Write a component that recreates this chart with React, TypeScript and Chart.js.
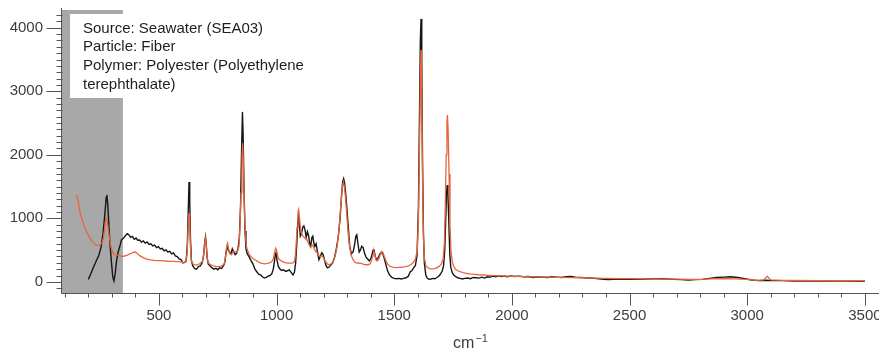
import React, { useEffect, useRef } from "react";
import { Chart, registerables } from "chart.js";

Chart.register(...registerables);

// ---- Data (wavenumber cm^-1, intensity) ----
const BLACK_X = [
  200, 210, 222, 235, 245, 255, 263, 270, 276, 279, 283, 288, 293, 299, 304, 309, 314, 320, 327, 334,
  341, 350, 358, 366, 373, 380, 388, 395, 403, 410, 418, 426, 434, 442, 450, 458, 466, 474, 482, 490,
  498, 506, 514, 522, 530, 538, 546, 554, 562, 570, 578, 586, 594, 602, 610, 616, 621, 625, 628, 631,
  634, 638, 644, 652, 660, 668, 676, 684, 690, 695, 698, 701, 705, 710, 718, 726, 734, 742, 750, 758,
  766, 774, 780, 786, 791, 795, 800, 806, 812, 818, 824, 830, 836, 842, 847, 851, 855, 858, 862, 866,
  870, 876, 884, 892, 900, 908, 916, 924, 932, 940, 948, 956, 964, 972, 980, 986, 991, 995, 998, 1002,
  1008, 1015, 1022, 1030, 1038, 1046, 1054, 1062, 1070, 1076, 1081, 1086, 1090, 1093, 1097, 1101, 1106, 1111, 1116, 1121,
  1126, 1131, 1136, 1141, 1145, 1150, 1154, 1158, 1163, 1168, 1174, 1180, 1186, 1192, 1198, 1204, 1210, 1216, 1222, 1230,
  1238, 1246, 1254, 1262, 1270, 1276, 1281, 1285, 1289, 1294, 1299, 1305, 1311, 1318, 1326, 1332, 1337, 1341, 1346, 1351,
  1356, 1362, 1368, 1374, 1380, 1387, 1394, 1400, 1406, 1410, 1414, 1419, 1425, 1432, 1439, 1445, 1451, 1457, 1464, 1472,
  1480, 1490, 1500, 1510, 1520, 1530, 1540, 1550, 1560, 1568, 1575, 1582, 1590, 1597, 1603, 1607, 1611, 1614, 1617, 1620,
  1624, 1628, 1634, 1640, 1648, 1656, 1664, 1672, 1680, 1688, 1696, 1704, 1710, 1715, 1719, 1722, 1725, 1728, 1732, 1736,
  1740, 1746, 1752, 1760, 1770, 1780, 1790, 1800, 1812, 1824, 1836, 1848, 1860, 1872, 1884, 1896, 1908, 1920, 1932, 1944,
  1956, 1968, 1980, 1995, 2010, 2030, 2050, 2070, 2090, 2110, 2130, 2150, 2170, 2190, 2210, 2230, 2250, 2270, 2290, 2310,
  2330, 2350, 2370, 2390, 2410, 2430, 2450, 2480, 2510, 2540, 2570, 2600, 2630, 2660, 2690, 2720, 2750, 2780, 2810, 2840,
  2870, 2900, 2930, 2960, 2990, 3020, 3050, 3080, 3110, 3150, 3200, 3300, 3400, 3500,
];
const BLACK_Y = [
  40, 120, 230, 340, 420, 560, 780, 1050, 1330, 1369, 1200, 860, 560, 280, 80, 15, 120, 330, 470, 560,
  660, 690, 730, 760, 740, 700, 715, 670, 690, 655, 660, 625, 645, 610, 630, 590, 600, 565, 580, 540,
  555, 520, 530, 490, 505, 470, 480, 440, 455, 410, 400, 360, 350, 300, 310, 330, 600, 1150, 1573, 1300,
  700, 340, 250, 210, 200, 240, 250, 300, 420, 640, 710, 600, 380, 280, 250, 220, 200, 215, 190, 220,
  210, 250, 300, 480, 570, 500, 470, 440, 520, 470, 430, 450, 520, 700, 1200, 2000, 2676, 2300, 1400, 800,
  520, 440, 390, 330, 280, 200, 160, 120, 110, 80, 60, 70, 90, 100, 130, 200, 320, 440, 460, 340,
  240, 200, 180, 190, 165, 175, 190, 150, 110, 150, 300, 600, 920, 1060, 900, 720, 760, 860, 880, 820,
  700, 790, 730, 600, 560, 700, 720, 620, 560, 600, 470, 350, 400, 460, 430, 340, 260, 220, 230, 260,
  300, 380, 520, 700, 1000, 1350, 1580, 1625, 1560, 1380, 1150, 850, 560, 440, 480, 600, 720, 740, 600, 470,
  500, 560, 540, 450, 390, 360, 330, 360, 430, 500, 510, 400, 350, 380, 440, 460, 450, 380, 280, 170,
  110, 70, 55, 50, 55, 45, 55, 65, 90, 160, 175, 220, 260, 420, 1200, 2500, 3800, 4140, 3500, 2000,
  800, 300, 110, 60, 40, 45, 55, 50, 65, 85, 120, 170, 260, 520, 1000, 1380, 1526, 1380, 950, 450,
  240, 150, 110, 85, 65, 55, 45, 55, 60, 50, 70, 65, 60, 75, 60, 80, 75, 90, 80, 95,
  85, 90, 80, 95, 85, 90, 80, 85, 70, 80, 75, 70, 80, 75, 70, 80, 85, 75, 70, 65,
  60, 55, 50, 40, 35, 40, 45, 40, 45, 40, 45, 50, 50, 45, 40, 35, 30, 35, 40, 55,
  70, 75, 80, 70, 50, 30, 20, 25, 20, 20, 15, 15, 12, 10,
];

const ORANGE_X = [
  150, 158, 166, 176, 186, 196, 207, 218, 228, 238, 248, 258, 265, 270, 274, 277, 280, 285, 290, 296,
  302, 308, 316, 326, 336, 346, 356, 366, 376, 386, 396, 404, 412, 420, 430, 440, 452, 466, 480, 500,
  520, 540, 560, 580, 596, 606, 614, 620, 624, 628, 631, 634, 638, 645, 655, 665, 675, 685, 691, 695,
  698, 701, 706, 712, 720, 730, 740, 750, 760, 770, 778, 784, 789, 792, 796, 802, 808, 815, 821, 828,
  834, 840, 845, 849, 853, 856, 859, 863, 867, 872, 878, 886, 894, 902, 910, 920, 930, 940, 950, 960,
  970, 980, 986, 991, 996, 1000, 1005, 1011, 1020, 1030, 1040, 1050, 1060, 1070, 1077, 1082, 1087, 1091, 1094, 1098,
  1102, 1107, 1112, 1118, 1124, 1130, 1136, 1142, 1148, 1154, 1160, 1166, 1172, 1178, 1186, 1192, 1198, 1206, 1214, 1222,
  1230, 1240, 1250, 1258, 1266, 1273, 1279, 1284, 1288, 1293, 1298, 1304, 1310, 1317, 1325, 1333, 1341, 1350, 1360, 1370,
  1380, 1390, 1398, 1405, 1410, 1414, 1418, 1424, 1432, 1440, 1446, 1452, 1458, 1465, 1472, 1480, 1490, 1500, 1510, 1520,
  1530, 1540, 1550, 1560, 1570, 1580, 1590, 1598, 1603, 1607, 1611, 1614, 1617, 1620, 1624, 1628, 1634, 1642, 1650, 1660,
  1670, 1680, 1690, 1700, 1708, 1713, 1717, 1721, 1724, 1726, 1729, 1733, 1737, 1741, 1746, 1752, 1760, 1770, 1780, 1792,
  1806, 1820, 1840, 1860, 1880, 1900, 1920, 1950, 1980, 2010, 2050, 2100, 2150, 2200, 2250, 2300, 2350, 2400, 2450, 2500,
  2550, 2600, 2650, 2700, 2750, 2800, 2850, 2900, 2950, 3000, 3040, 3070, 3080, 3086, 3092, 3100, 3150, 3200, 3300, 3400,
  3500,
];
const ORANGE_Y = [
  1369, 1250, 1080, 950, 850, 760, 690, 630, 590, 575, 580, 610, 700, 850, 980, 1000, 960, 820, 700, 560,
  480, 440, 420, 420, 410, 400, 410, 420, 440, 455, 470, 460, 430, 410, 390, 370, 355, 345, 340, 335,
  330, 325, 322, 320, 315, 300, 310, 450, 800, 1080, 950, 550, 330, 280, 265, 270, 290, 320, 450, 620,
  690, 580, 350, 290, 270, 255, 245, 240, 245, 255, 290, 420, 580, 610, 520, 440, 430, 470, 480, 470,
  480, 560, 900, 1400, 1950, 2183, 1900, 1200, 750, 560, 480, 420, 390, 360, 345, 320, 300, 290, 285, 290,
  300, 320, 360, 450, 530, 500, 400, 350, 330, 310, 300, 295, 295, 300, 330, 500, 850, 1100, 1140, 1000,
  820, 760, 720, 700, 680, 660, 600, 560, 560, 580, 520, 480, 460, 420, 400, 410, 390, 330, 290, 270,
  280, 310, 420, 580, 850, 1200, 1480, 1570, 1500, 1330, 1080, 780, 560, 420, 350, 310, 295, 300, 290, 275,
  270, 270, 290, 350, 430, 480, 420, 330, 340, 420, 480, 460, 400, 330, 280, 250, 235, 228, 225, 228,
  230, 235, 240, 250, 270, 300, 360, 500, 1000, 2000, 3100, 3650, 3000, 1700, 700, 380, 260, 225, 210, 205,
  210, 220, 240, 280, 360, 600, 1200, 2000, 2500, 2628, 2400, 1700, 900, 500, 330, 250, 200, 175, 160, 145,
  135, 125, 118, 112, 108, 104, 100, 96, 92, 88, 84, 80, 76, 72, 68, 65, 60, 55, 52, 50,
  48, 46, 44, 42, 38, 40, 46, 52, 48, 38, 25, 30, 70, 90, 60, 30, 25, 22, 20, 18,
  15,
];

// ---- Axis settings ----
const X_MIN = 84;
const X_MAX = 3560;
const Y_MIN = -175;
const Y_MAX = 4280;
const X_TICKS = [500, 1000, 1500, 2000, 2500, 3000, 3500];
const Y_TICKS = [0, 1000, 2000, 3000, 4000];
const X_MINOR = 100;
const Y_MINOR = 100;
const SHADE_END = 347;

const INFO_LINES = [
  "Source: Seawater (SEA03)",
  "Particle: Fiber",
  "Polymer: Polyester (Polyethylene",
  "terephthalate)",
];
const X_TITLE = "cm";
const X_TITLE_SUP = "\u22121";

const FONT = '"Liberation Sans", Arial, sans-serif';
const AXIS_COLOR = "#555555";
const LABEL_COLOR = "#3d3d3d";

const decorPlugin = {
  id: "decor",
  beforeDatasetsDraw(chart: any) {
    const { ctx, chartArea, scales } = chart;
    const xs = scales.x;
    const x0 = chartArea.left;
    const x1 = xs.getPixelForValue(SHADE_END);
    ctx.save();
    ctx.fillStyle = "#a8a8a8";
    ctx.fillRect(x0, chartArea.top, x1 - x0, chartArea.bottom - chartArea.top);
    ctx.restore();
  },
  afterDatasetsDraw(chart: any) {
    const { ctx, chartArea, scales } = chart;
    const xs = scales.x;
    const ys = scales.y;
    ctx.save();
    // info box
    const bx = chartArea.left + 9;
    const by = chartArea.top + 4;
    ctx.fillStyle = "#ffffff";
    ctx.fillRect(bx, by, 252, 84);
    ctx.fillStyle = "#1e1e1e";
    ctx.font = "15px " + FONT;
    ctx.textAlign = "left";
    ctx.textBaseline = "alphabetic";
    INFO_LINES.forEach((line, i) => {
      ctx.fillText(line, bx + 13, by + 18.5 + i * 18.7);
    });

    // axes
    ctx.strokeStyle = AXIS_COLOR;
    ctx.lineWidth = 1;
    const ax = Math.round(chartArea.left) + 0.5;
    const ay = Math.round(chartArea.bottom) + 0.5;
    ctx.beginPath();
    ctx.moveTo(ax, chartArea.top - 2);
    ctx.lineTo(ax, ay);
    ctx.moveTo(ax, ay);
    ctx.lineTo(chartArea.right, ay);
    // y ticks
    for (let v = Math.ceil(Y_MIN / Y_MINOR) * Y_MINOR; v <= Y_MAX; v += Y_MINOR) {
      const py = Math.round(ys.getPixelForValue(v)) + 0.5;
      const major = Y_TICKS.includes(v);
      ctx.moveTo(ax - (major ? 15 : 5), py);
      ctx.lineTo(ax + (major ? 0 : 1), py);
    }
    // x ticks
    for (let v = Math.ceil(X_MIN / X_MINOR) * X_MINOR; v <= X_MAX; v += X_MINOR) {
      const px = Math.round(xs.getPixelForValue(v)) + 0.5;
      const major = X_TICKS.includes(v);
      ctx.moveTo(px, ay);
      ctx.lineTo(px, ay + (major ? 12 : 4));
    }
    ctx.stroke();

    // x title cm^-1
    const cx = (chartArea.left + chartArea.right) / 2;
    ctx.fillStyle = LABEL_COLOR;
    ctx.font = "16px " + FONT;
    const w1 = ctx.measureText(X_TITLE).width;
    ctx.font = "11px " + FONT;
    const w2 = ctx.measureText(X_TITLE_SUP).width;
    const start = cx - (w1 + w2) / 2;
    ctx.font = "16px " + FONT;
    ctx.fillText(X_TITLE, start, 348);
    ctx.font = "11px " + FONT;
    ctx.fillText(X_TITLE_SUP, start + w1 + 1, 342);
    ctx.restore();
  },
};

export default function App() {
  const ref = useRef<HTMLCanvasElement | null>(null);
  useEffect(() => {
    if (!ref.current) return;
    const orange = ORANGE_X.map((x, i) => ({ x, y: ORANGE_Y[i] }));
    const black = BLACK_X.map((x, i) => ({ x, y: BLACK_Y[i] }));
    const chart = new Chart(ref.current, {
      type: "line",
      data: {
        datasets: [
          {
            label: "Reference",
            data: orange,
            borderColor: "#e8643e",
            borderWidth: 1.3,
            pointRadius: 0,
            tension: 0,
            fill: false,
          },
          {
            label: "Sample",
            data: black,
            borderColor: "#161616",
            borderWidth: 1.4,
            pointRadius: 0,
            tension: 0,
            fill: false,
          },
        ],
      },
      options: {
        animation: false,
        responsive: false,
        devicePixelRatio: 1,
        layout: { padding: { left: 0, right: 0, top: 10, bottom: 0 } },
        plugins: { legend: { display: false }, tooltip: { enabled: false } },
        scales: {
          x: {
            type: "linear",
            min: X_MIN,
            max: X_MAX,
            grid: { display: false, drawTicks: false },
            border: { display: false },
            afterBuildTicks(scale: any) {
              scale.ticks = X_TICKS.map((v) => ({ value: v }));
            },
            ticks: {
              autoSkip: false,
              maxRotation: 0,
              padding: 14,
              color: LABEL_COLOR,
              font: { family: FONT, size: 15 },
              callback: (v: any) => String(v),
            },
            afterFit(scale: any) {
              scale.height = 59;
              scale.paddingLeft = 0;
              scale.paddingRight = 0;
            },
          },
          y: {
            type: "linear",
            min: Y_MIN,
            max: Y_MAX,
            grid: { display: false, drawTicks: false },
            border: { display: false },
            afterBuildTicks(scale: any) {
              scale.ticks = Y_TICKS.map((v) => ({ value: v }));
            },
            ticks: {
              autoSkip: false,
              padding: 18,
              color: LABEL_COLOR,
              font: { family: FONT, size: 15 },
              callback: (v: any) => String(v),
            },
            afterFit(scale: any) {
              scale.width = 61;
              scale.paddingTop = 0;
              scale.paddingBottom = 0;
            },
          },
        },
      },
      plugins: [decorPlugin],
    });
    return () => chart.destroy();
  }, []);

  return (
    <div style={{ position: "fixed", left: 0, top: 0, width: 879, height: 352, background: "#fff", overflow: "hidden" }}>
      <canvas ref={ref} width={879} height={352} style={{ display: "block" }} />
    </div>
  );
}
